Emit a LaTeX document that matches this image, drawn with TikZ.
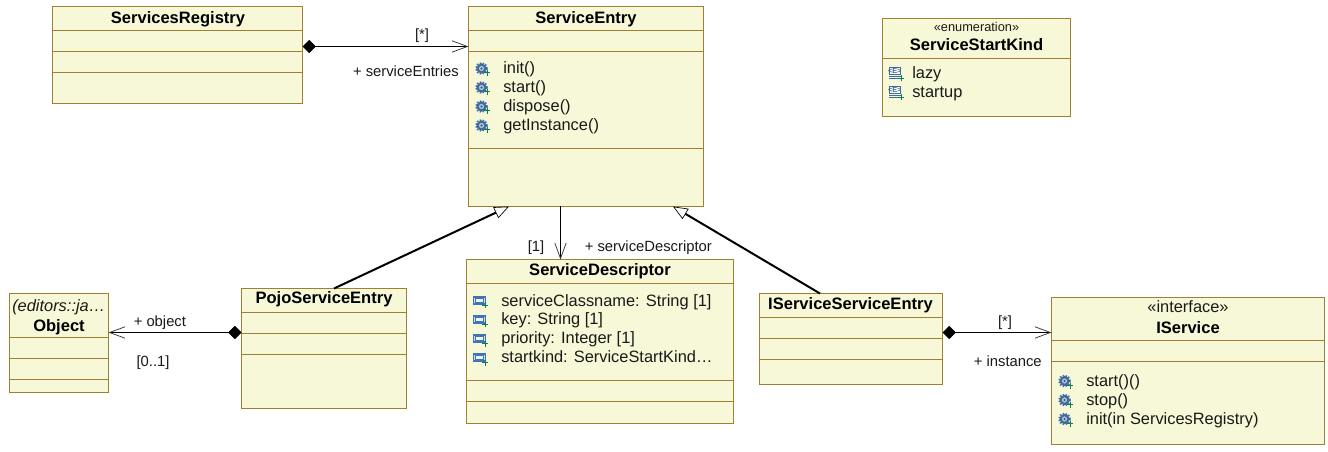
\documentclass[tikz,border=0pt]{standalone}
\usepackage{fontspec}
\setmainfont{Liberation Sans}
\usetikzlibrary{arrows.meta}
\definecolor{umlfill}{HTML}{F7F8D7}
\definecolor{umlline}{HTML}{A07F30}
\definecolor{gearblue}{HTML}{3F6A9E}
\definecolor{plusgreen}{HTML}{0A8050}
\definecolor{attrblue}{HTML}{3F74B5}
\tikzset{
  x=0.75pt,y=-0.75pt,
  umlbox/.style={draw=umlline,fill=umlfill,line width=0.75pt,outer sep=0pt,inner sep=0pt,anchor=north west},
  divider/.style={draw=umlline,line width=0.7pt},
  txt/.style={font=\fontsize{12.3}{14}\selectfont,text=black!90,inner sep=0pt,anchor=base west},
  lbl/.style={font=\fontsize{11.1}{13}\selectfont,text=black!90,inner sep=0pt,anchor=base},
  titlet/.style={font=\fontsize{12.4}{14}\selectfont\bfseries,text=black,inner sep=0pt,anchor=base},
  assoc/.style={draw=black,line width=0.75pt},
  barbend/.style={-{Straight Barb[length=11.5pt,width=8.5pt,line width=0.55pt,color=black!80]}},
  compstart/.style={{Diamond[length=10pt,width=10pt]}-{Straight Barb[length=11.5pt,width=8.5pt,line width=0.55pt,color=black!80]}},
  genline/.style={draw=black,line width=1.5pt,-{Triangle[open,length=11pt,width=9pt,fill=white,line width=0.5pt]}},
  pics/gear/.style={code={
    \fill[gearblue] (0,0) circle[radius=5];
    \draw[gearblue,line width=1.4pt,dash pattern=on 1.1pt off 1.1pt] (0,0) circle[radius=5.5];
    \fill[white!60!gearblue] (0,0) circle[radius=2.6];
    \fill[gearblue!80!black] (0,0) circle[radius=1.2];
    \draw[plusgreen,line width=0.75pt] (2.8,4.5) -- (8.8,4.5) (5.8,1.5) -- (5.8,7.5);
  }},
  pics/attr/.style={code={
    \draw[attrblue,fill=white!75!attrblue,line width=0.9pt] (-6,-4) rectangle (6,3);
    \draw[attrblue,fill=white!92!attrblue,line width=0.5pt] (-4.5,-2.5) rectangle (3.5,1);
    \draw[plusgreen,line width=0.75pt] (2.5,4.5) -- (8.5,4.5) (5.5,1.5) -- (5.5,7.5);
  }},
  pics/enumlit/.style={code={
    \draw[gearblue,fill=white,line width=0.7pt] (-6.5,-6) rectangle (5,1.5);
    \node[inner sep=0pt,font=\fontsize{5.5}{6}\selectfont\bfseries,text=gearblue] at (-0.75,-2.2) {<E>};
    \draw[gearblue,line width=0.7pt] (-6.5,3) -- (5,3) (-6.5,5.5) -- (2,5.5);
    \draw[plusgreen,line width=0.75pt] (2.5,5.5) -- (8.5,5.5) (5.5,2.5) -- (5.5,8.5);
  }},
}
\newcommand{\umlrect}[5]{% name, x0, y0, x1, y1
  \pgfmathsetmacro{\boxw}{(#4-#2)*0.75}\pgfmathsetmacro{\boxh}{(#5-#3)*0.75}
  \node[umlbox,minimum width=\boxw pt,minimum height=\boxh pt] (#1) at (#2,#3) {};
}
\newcommand{\dividers}[3]{% x0,x1,list
  \foreach \yy in {#3} {\draw[divider] (#1,\yy) -- (#2,\yy);}
}
\begin{document}
\begin{tikzpicture}
\useasboundingbox (0,0) rectangle (1328,452);
\fill[white] (0,0) rectangle (1328,452);

% boxes
\umlrect{reg}{52.5}{7}{302.5}{104}
\dividers{52.5}{302.5}{30.5,51.5,72.5}
\umlrect{entry}{468.5}{6.5}{703.5}{206.5}
\dividers{468.5}{703.5}{30.5,51.5,148.5}
\umlrect{kind}{882.5}{18.5}{1070.5}{116.5}
\dividers{882.5}{1070.5}{58.5}
\umlrect{obj}{9.5}{293.5}{108.5}{392.5}
\dividers{9.5}{108.5}{337.5,358.5,379.5}
\umlrect{pojo}{241.5}{288.5}{406.5}{408.5}
\dividers{241.5}{406.5}{312.5,333.5,354.5}
\umlrect{desc}{466.5}{259.5}{733.5}{423.5}
\dividers{466.5}{733.5}{283.5,380.5,401.5}
\umlrect{isse}{759.5}{293.5}{942.5}{384.5}
\dividers{759.5}{942.5}{317.5,338.5,359.5}
\umlrect{isvc}{1051.5}{297.5}{1324.5}{444.5}
\dividers{1051.5}{1324.5}{340.5,361.5}

% titles
\node[titlet] (t1) at (178,23.5) {ServicesRegistry};
\node[titlet] (t2) at (586,23.5) {ServiceEntry};
\node[lbl,font=\fontsize{9.6}{11}\selectfont] (t3s) at (976.5,32) {«enumeration»};
\node[titlet] (t3) at (976.5,51) {ServiceStartKind};
\node[lbl,font=\fontsize{12.3}{14}\selectfont\itshape,anchor=base west] (t4s) at (12,311) {(editors::ja…};
\node[titlet] (t4) at (59,331) {Object};
\node[titlet] (t5) at (324,304) {PojoServiceEntry};
\node[titlet] (t6) at (600,276) {ServiceDescriptor};
\node[titlet] (t7) at (850.5,310) {IServiceServiceEntry};
\node[txt,anchor=base] (t8s) at (1188,313) {«interface»};
\node[titlet] (t8) at (1188,334) {IService};

% members
\node[txt] (m1) at (503,74) {init()};
\node[txt] (m2) at (503,93) {start()};
\node[txt] (m3) at (503,112) {dispose()};
\node[txt] (m4) at (503,131) {getInstance()};
\pic at (481.5,68.5) {gear};
\pic at (481.5,87.5) {gear};
\pic at (481.5,106.5) {gear};
\pic at (481.5,125.5) {gear};

\node[txt] (e1) at (912,79) {lazy};
\node[txt] (e2) at (912,98) {startup};
\pic at (895.5,73) {enumlit};
\pic at (895.5,92) {enumlit};

\node[txt] (a1) at (501,306) {serviceClassname: String [1]};
\node[txt] (a2) at (501,325) {key: String [1]};
\node[txt] (a3) at (501,344) {priority: Integer [1]};
\node[txt] (a4) at (501,363) {startkind: ServiceStartKind…};
\pic at (479.5,301) {attr};
\pic at (479.5,320) {attr};
\pic at (479.5,339) {attr};
\pic at (479.5,358) {attr};

\node[txt] (o1) at (1086,386) {start()()};
\node[txt] (o2) at (1086,405) {stop()};
\node[txt] (o3) at (1086,424) {init(in ServicesRegistry)};
\pic at (1064.5,381) {gear};
\pic at (1064.5,400) {gear};
\pic at (1064.5,419) {gear};

% connectors
\draw[assoc,compstart] (reg.east |- 0,46.5) -- (entry.west |- 0,46.5);
\draw[assoc,compstart] (pojo.west |- 0,332.5) -- (obj.east |- 0,332.5);
\draw[assoc,compstart] (isse.east |- 0,332.5) -- (isvc.west |- 0,332.5);
\draw[assoc,barbend] (560.5,0 |- entry.south) -- (560.5,0 |- desc.north);
\draw[genline] (334,0 |- pojo.north) -- (509,0 |- entry.south);
\draw[genline] (820,0 |- isse.north) -- (673,0 |- entry.south);

% connector labels
\node[lbl] (l1) at (422,40) {[*]};
\node[lbl,anchor=base east] (l2) at (459,77) {+ serviceEntries};
\node[lbl,anchor=base west] (l3) at (133.5,326) {+ object};
\node[lbl] (l4) at (153,366) {[0..1]};
\node[lbl] (l5) at (536,252) {[1]};
\node[lbl,anchor=base west] (l6) at (584.5,252) {+ serviceDescriptor};
\node[lbl] (l7) at (1005,326) {[*]};
\node[lbl,anchor=base east] (l8) at (1042,366) {+ instance};
\end{tikzpicture}
\end{document}
